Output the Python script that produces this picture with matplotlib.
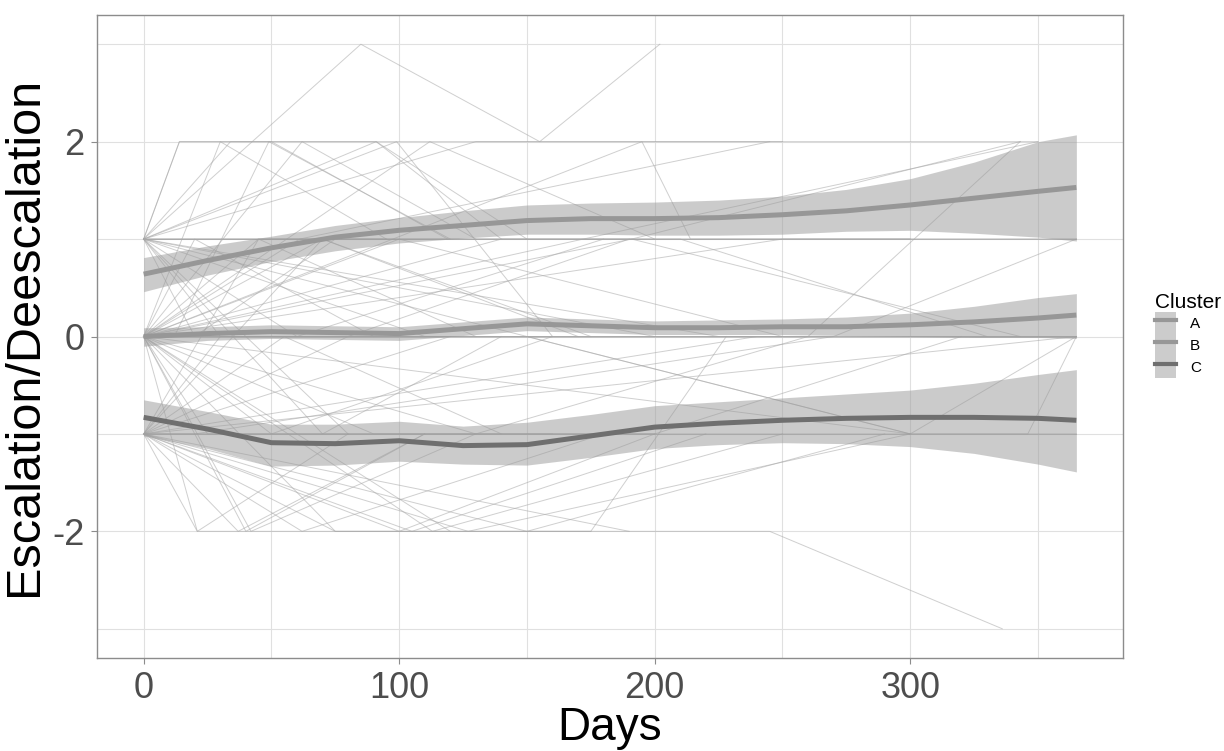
import matplotlib
matplotlib.use("Agg")
import matplotlib.pyplot as plt
from matplotlib.lines import Line2D
from matplotlib.patches import Patch

plt.rcParams['font.family'] = ['Liberation Sans', 'DejaVu Sans']
plt.rcParams['axes.unicode_minus'] = False

# individual trajectories (day, escalation score)
traj_days = [
    [0, 85, 155, 202], [0, 14, 50, 119], [0, 34, 91, 140], [0, 91, 150, 365],
    [0, 130, 250], [0, 30, 120], [0, 60, 180], [0, 110, 200], [0, 200, 365],
    [0, 80, 160], [0, 180, 365], [0, 45, 130], [0, 20, 75], [0, 150, 300],
    [0, 70, 140], [0, 100, 250], [0, 12, 49, 120], [0, 20, 90], [0, 45, 150],
    [0, 70, 170], [0, 100, 250], [0, 140, 300], [0, 191, 343], [0, 250, 365],
    [0, 150, 365], [0, 25, 80], [0, 50, 160], [0, 90, 200], [0, 130, 260],
    [0, 40, 110], [0, 75, 175], [0, 120], [0, 30, 95], [0, 62, 130],
    [0, 99, 160], [0, 112, 200], [0, 195, 214, 300], [0, 21, 245, 336],
    [0, 62, 180], [0, 75, 175, 228], [0, 100, 200], [0, 150, 290], [0, 190],
    [0, 365], [0, 20, 270], [0, 30, 100], [0, 55, 140], [0, 80, 190],
    [0, 120, 250], [0, 160, 346, 365], [0, 200, 320], [0, 45, 95],
    [0, 70, 175], [0, 250, 365], [0, 37, 110], [0, 21, 80], [0, 42, 130],
    [0, 105, 220], [0, 113, 250], [0, 127, 300], [0, 61, 245],
    [0, 100, 260, 343], [0, 191, 343], [0, 270, 365], [0, 150, 300, 365],
    [0, 210, 330], [0, 300, 365], [0, 225, 365], [0, 240, 365],
    [0, 14, 200, 350], [0, 172, 350],
]
traj_vals = [
    [1, 3, 2, 3], [1, 2, 2, 1], [1, 2, 2, 1], [1, 2, 1, 1],
    [1, 2, 2], [1, 0, 0], [1, 0, 1], [1, 0, 0], [1, 0, 0],
    [1, -1, -1], [1, 1, 1], [1, 1, 0], [1, 0, 1], [1, 0, -1],
    [1, -1, 0], [1, 1, 1], [0, 0, 2, 1], [0, 1, 0], [0, 1, 1],
    [0, 1, 0], [0, 1, 0], [0, 1, 1], [0, 1, 2], [0, 1, 1],
    [0, 0, 0], [0, -1, -1], [0, -1, 0], [0, -1, -1], [0, -1, 0],
    [0, -2, -1], [0, -2, -2], [0, -2], [0, 2, 1], [0, 2, 1],
    [1, 2, 0], [0, 2, 1], [0, 2, 1, 1], [-1, -2, -2, -3],
    [-1, -2, -1], [-1, -2, -2, 0], [-1, -2, -1], [-1, -2, -1], [-1, -2],
    [-1, 0], [-1, -1, 0], [-1, 0, 0], [-1, 0, -1], [-1, 0, 1],
    [-1, 0, 0], [-1, -1, -1, 0], [-1, -1, 0], [-1, 1, 1],
    [-1, 1, 0], [-1, -1, -1], [-1, -2, -1], [0, -2, -1], [0, -2, -1],
    [-1, -2, -1], [0, -2, -1], [-1, -2, -1], [0, 1, 2],
    [0, 0, 0, 2], [1, 1, 0], [0, 0, 1], [0, 0, -1, -1],
    [1, 1, 0], [0, -1, 0], [1, 0, 0], [-1, 0, 0],
    [1, 2, 2, 2], [0, 1, 2],
]

# smoothed cluster trends with confidence bands
fit_days = [0, 25, 50, 75, 100, 125, 150, 175, 200, 225, 250, 275, 300, 325, 350, 365]
clusters = ["A", "B", "C"]
A_fit = [0.64, 0.78, 0.91, 1.02, 1.09, 1.14, 1.19, 1.21, 1.21, 1.22, 1.25, 1.29, 1.35, 1.42, 1.49, 1.53]
A_lo = [0.46, 0.63, 0.77, 0.88, 0.96, 1.01, 1.05, 1.05, 1.04, 1.04, 1.05, 1.08, 1.09, 1.06, 1.02, 0.98]
A_hi = [0.81, 0.93, 1.03, 1.14, 1.22, 1.29, 1.35, 1.37, 1.38, 1.40, 1.44, 1.51, 1.62, 1.79, 2.00, 2.07]
B_fit = [0.00, 0.03, 0.05, 0.04, 0.03, 0.08, 0.13, 0.11, 0.09, 0.09, 0.10, 0.10, 0.12, 0.15, 0.19, 0.22]
B_lo = [-0.10, -0.04, -0.02, -0.03, -0.04, 0.01, 0.06, 0.04, 0.02, 0.02, 0.02, 0.01, 0.00, -0.01, -0.01, -0.02]
B_hi = [0.09, 0.10, 0.12, 0.11, 0.10, 0.15, 0.20, 0.18, 0.16, 0.17, 0.18, 0.20, 0.24, 0.31, 0.40, 0.44]
C_fit = [-0.83, -0.95, -1.09, -1.10, -1.07, -1.12, -1.11, -1.02, -0.93, -0.89, -0.86, -0.84, -0.83, -0.83, -0.84, -0.86]
C_lo = [-1.02, -1.15, -1.33, -1.32, -1.28, -1.31, -1.32, -1.24, -1.15, -1.11, -1.09, -1.10, -1.13, -1.20, -1.31, -1.39]
C_hi = [-0.65, -0.77, -0.90, -0.90, -0.87, -0.92, -0.88, -0.80, -0.71, -0.67, -0.63, -0.59, -0.55, -0.48, -0.39, -0.34]

fits = {"A": (A_fit, A_lo, A_hi), "B": (B_fit, B_lo, B_hi), "C": (C_fit, C_lo, C_hi)}
line_cols = {"A": "#979797", "B": "#979797", "C": "#6f6f6f"}

fig = plt.figure(figsize=(12.24, 7.51), dpi=100)
ax = fig.add_axes([97 / 1224, 1 - 658 / 751, (1123 - 97) / 1224, (658 - 15) / 751])

for d, v in zip(traj_days, traj_vals):
    ax.plot(d, v, color="#a8a8a8", alpha=0.55, lw=0.7, zorder=2)

for c in clusters:
    fit, lo, hi = fits[c]
    ax.fill_between(fit_days, lo, hi, color="#999999", alpha=0.5, lw=0, zorder=3)
for c in clusters:
    fit, lo, hi = fits[c]
    ax.plot(fit_days, fit, color=line_cols[c], lw=3.6, zorder=4, solid_capstyle="butt")

ax.set_xlim(-18.25, 383.25)
ax.set_ylim(-3.3, 3.3)
ax.set_xticks([0, 100, 200, 300])
ax.set_xticks([50, 150, 250, 350], minor=True)
ax.set_yticks([-2, 0, 2])
ax.set_yticks([-3, -1, 1, 3], minor=True)
ax.grid(True, which="both", color="#e0e0e0", lw=0.8, zorder=0)
ax.set_axisbelow(True)
ax.tick_params(which="major", length=4, width=0.8, color="#8c8c8c",
               labelcolor="#4d4d4d", labelsize=26, pad=5)
ax.tick_params(which="minor", length=0)
for s in ax.spines.values():
    s.set_color("#8c8c8c")
    s.set_linewidth(1.0)

ax.set_xlabel("Days", fontsize=33, labelpad=0)
ax.set_ylabel("Escalation/Deescalation", fontsize=35)
ax.yaxis.set_label_coords(-50 / 1026, 0.5)

handles = [(Patch(facecolor="#cccccc", edgecolor="none"),
            Line2D([], [], color=line_cols[c], lw=3)) for c in clusters]
leg = fig.legend(handles, clusters, title="Cluster", loc="upper left",
                 bbox_to_anchor=(1155 / 1224, 1 - 293 / 751), frameon=False,
                 handlelength=1.4, handleheight=1.85, labelspacing=0,
                 handletextpad=0.9, borderpad=0, borderaxespad=0,
                 fontsize=11, title_fontsize=15, alignment="left")

fig.savefig("out.png", dpi=100)
